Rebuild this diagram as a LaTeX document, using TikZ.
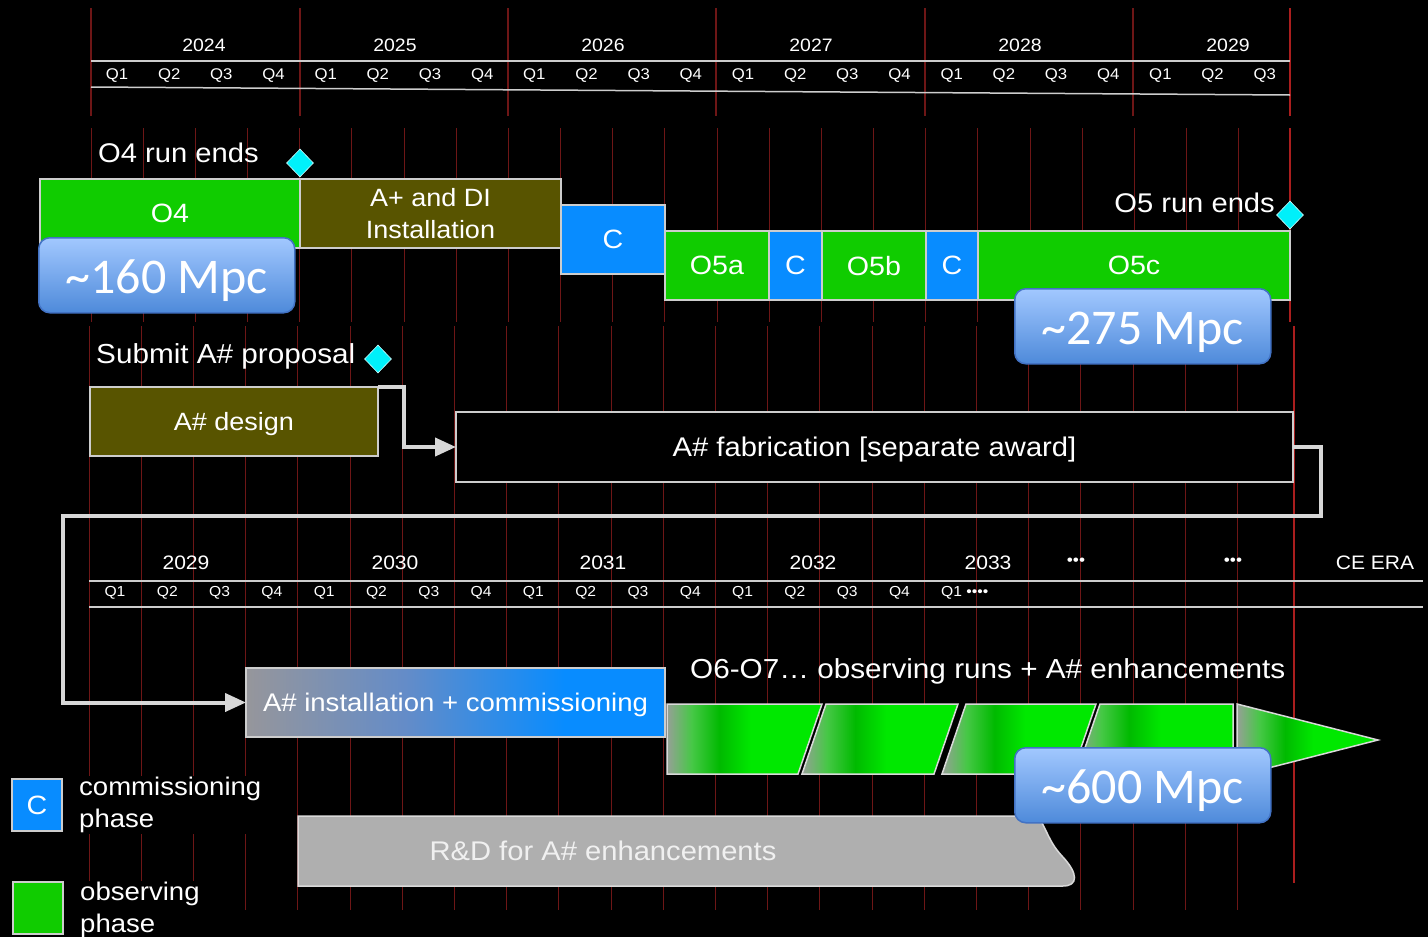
\documentclass[tikz,border=0pt]{standalone}
\usepackage{fontspec}
\setmainfont{Liberation Sans}[FakeStretch=1.08]
\newfontfamily\mpcfont{Carlito}
\usepackage{tikz}
\usetikzlibrary{arrows.meta,shapes.geometric,positioning}

\definecolor{obsgreen}{RGB}{16,204,0}
\definecolor{cblue}{RGB}{8,140,255}
\definecolor{olive}{RGB}{88,84,0}
\definecolor{stonecyan}{RGB}{0,240,250}
\definecolor{gridred}{RGB}{110,22,22}
\definecolor{endred}{RGB}{170,30,30}
\definecolor{boxline}{RGB}{205,205,205}
\definecolor{flowgray}{RGB}{215,215,215}
\definecolor{bubtop}{RGB}{162,200,255}
\definecolor{bubbot}{RGB}{78,138,218}
\definecolor{bubline}{RGB}{66,114,196}
\definecolor{rdgray}{RGB}{175,175,175}
\definecolor{seggray}{RGB}{150,160,150}
\definecolor{segmid}{RGB}{70,200,70}
\definecolor{segdark}{RGB}{0,186,0}
\definecolor{seglight}{RGB}{0,232,0}
\definecolor{instgray}{RGB}{150,150,155}
\definecolor{instmid}{RGB}{100,140,200}

\pgfdeclarehorizontalshading{segshade}{100bp}{color(0bp)=(seggray); color(25bp)=(seggray); color(33bp)=(segmid); color(42bp)=(segdark); color(52bp)=(seglight); color(75bp)=(seglight); color(100bp)=(seglight)}
\pgfdeclarehorizontalshading{instshade}{100bp}{color(0bp)=(instgray); color(25bp)=(instgray); color(44bp)=(instmid); color(63bp)=(cblue); color(75bp)=(cblue); color(100bp)=(cblue)}

\tikzset{
  gridline/.style={draw=gridred, line width=1pt},
  yeartick/.style={draw=gridred, line width=1.2pt},
  endtick/.style={draw=endred, line width=1.6pt},
  axisrule/.style={draw=boxline, line width=1.5pt},
  yearlab/.style={text=white, font=\fontsize{18}{22}\selectfont, inner sep=0pt},
  qlab/.style={text=white, font=\fontsize{15.5}{19}\selectfont, inner sep=0pt},
  lowqlab/.style={text=white, font=\fontsize{14.5}{18}\selectfont, inner sep=0pt},
  lowyearlab/.style={text=white, font=\fontsize{19.5}{23}\selectfont, inner sep=0pt},
  phase/.style={draw=boxline, line width=1.2pt, outer sep=0pt, inner sep=0pt,
    text=white, text depth=0pt, font=\fontsize{26.5}{32}\selectfont, align=center},
  obsbox/.style={phase, fill=obsgreen},
  cbox/.style={phase, fill=cblue},
  instbox/.style={phase, fill=olive, font=\fontsize{25}{32}\selectfont},
  fabbox/.style={phase, fill=black, font=\fontsize{27}{32}\selectfont},
  milestone/.style={diamond, fill=stonecyan, draw=white!80!stonecyan, line width=0.6pt,
    inner sep=0pt, minimum width=27pt, minimum height=28pt},
  runlab/.style={text=white, font=\fontsize{27}{32}\selectfont, inner sep=0pt},
  legtext/.style={text=white, fill=black, font=\fontsize{25.5}{32}\selectfont,
    align=left, inner sep=1pt},
  bubble/.style={draw=bubline, line width=1.5pt, rounded corners=11pt,
    top color=bubtop, bottom color=bubbot, text=white,
    font=\mpcfont\fontsize{50}{56}\selectfont, inner sep=0pt,
    text height=36pt, text depth=0pt,
    minimum width=256pt, minimum height=75pt},
  flow/.style={draw=flowgray, line width=4pt, -{Triangle[length=21pt,width=18pt]}},
  segment/.style={draw=white!85!black, line width=1.5pt, shading=segshade},
}

\begin{document}
\begin{tikzpicture}[x=1pt,y=-1pt]
  % Canvas
  \fill[black] (0,0) rectangle (1428,937);
  \useasboundingbox (0,0) rectangle (1428,937);

  % Top time axis 2024--2029
  \foreach \x in {91,300,508,716,925,1133}
    \draw[yeartick] (\x,8) -- (\x,116);
  \draw[endtick] (1290,8) -- (1290,116);
  \draw[axisrule] (91,61) -- (1290,61);
  \draw[axisrule] (91,87) -- (1290,95);
  \foreach \yr/\x in {2024/204,2025/395,2026/603,2027/811,2028/1020,2029/1228}
    \node[yearlab] (ty\yr) at (\x,45) {\yr};
  \foreach \k in {0,...,22}{
    \pgfmathtruncatemacro{\qn}{mod(\k,4)+1}
    \node[qlab] (tq\k) at ({117+52.17*\k},76) {Q\qn};
  }

  % Quarter grid
  \foreach \k in {0,...,22}
    \draw[gridline] ({91+52.17*\k},128) -- ++(0,194);
  \draw[endtick] (1290,128) -- (1290,322);
  \foreach \k in {0,...,22}
    \draw[gridline] ({89+52.2*\k},326) -- ++(0,584);
  \draw[endtick] (1294,326) -- (1294,883);

  % Lower time axis 2029--CE era
  \draw[axisrule] (89,581) -- (1423,581);
  \draw[axisrule] (89,607) -- (1423,607);
  \foreach \yr/\x in {2029/186,2030/395,2031/603,2032/813,2033/988}
    \node[lowyearlab] (by\yr) at (\x,563) {\yr};
  \node[lowyearlab, font=\fontsize{16}{20}\selectfont] (bdots1) at (1076,562) {•••};
  \node[lowyearlab, font=\fontsize{16}{20}\selectfont] (bdots2) at (1233,562) {•••};
  \node[lowyearlab] (bce) at (1375,563) {CE ERA};
  \foreach \k in {0,...,15}{
    \pgfmathtruncatemacro{\qn}{mod(\k,4)+1}
    \node[lowqlab] (bq\k) at ({115+52.3*\k},593) {Q\qn};
  }
  \node[lowqlab, anchor=west] (bq16) at (941,593) {Q1 ••••};

  % O4 and O5 runs
  \node[obsbox, minimum width=260pt, minimum height=69pt, anchor=north west] (O4) at (40,179) {O4};
  \node[instbox, minimum width=261pt, minimum height=69pt, right=0pt of O4] (Aplus) {A+ and DI\\Installation};
  \node[cbox, minimum width=104pt, minimum height=69pt, anchor=north west] (C1) at (561,205) {C};
  \node[obsbox, minimum width=104pt, minimum height=69pt, anchor=north west] (O5a) at (665,231) {O5a};
  \node[cbox, minimum width=53pt, minimum height=69pt, right=0pt of O5a] (C2) {C};
  \node[obsbox, minimum width=104pt, minimum height=69pt, right=0pt of C2] (O5b) {O5b};
  \node[cbox, minimum width=52pt, minimum height=69pt, right=0pt of O5b] (C3) {C};
  \node[obsbox, minimum width=312pt, minimum height=69pt, right=0pt of C3] (O5c) {O5c};

  \node[runlab, anchor=base west] (O4end) at (98,162) {O4 run ends};
  \node[milestone] (O4stone) at (300,163) {};
  \node[runlab, anchor=base east] (O5end) at (1275,212) {O5 run ends};
  \node[milestone] (O5stone) at (1290,215) {};

  % A# design and fabrication
  \node[runlab, anchor=base west, font=\fontsize{27.5}{32}\selectfont] (submit) at (96,363) {Submit A\# proposal};
  \node[milestone] (subst) at (378,359) {};
  \node[instbox, minimum width=288pt, minimum height=69pt, anchor=north west] (design) at (90,387) {A\# design};
  \node[fabbox, minimum width=837pt, minimum height=70pt, anchor=north west] (fab) at (456,412) {A\# fabrication [separate award]};

  % A# installation and observing runs
  \node[phase, shading=instshade, minimum width=419pt, minimum height=69pt, anchor=north west,
    font=\fontsize{25.5}{32}\selectfont] (inst) at (246,668) {A\# installation + commissioning};
  \node[runlab, anchor=base west, font=\fontsize{27.5}{32}\selectfont] (O6) at (690,678) {O6-O7… observing runs + A\# enhancements};
  \draw[segment] (667,704) -- (822,704) -- (798,774) -- (667,774) -- cycle;
  \draw[segment] (826,704) -- (958,704) -- (934,774) -- (802,774) -- cycle;
  \draw[segment] (966,704) -- (1096,704) -- (1072,774) -- (942,774) -- cycle;
  \draw[segment] (1100,704) -- (1233,704) -- (1233,774) -- (1076,774) -- cycle;
  \draw[segment] (1237,704) -- (1378,740) -- (1237,776) -- cycle;

  % R&D
  \draw[draw=white!85!black, line width=1.5pt, fill=rdgray]
    (298,816) -- (1038,816) .. controls (1047,830) and (1049,842) .. (1062,856)
    .. controls (1079,874) and (1078,886) .. (1063,886) -- (298,886) -- cycle;
  \node[text=white!94!black, font=\fontsize{27}{32}\selectfont, inner sep=0pt] (rd) at (603,851) {R\&D for A\# enhancements};

  % Flow arrows
  \draw[flow] (design.north east) -- ++(26,0) |- (fab.west);
  \coordinate (turn) at (63,516);
  \draw[flow] (fab.east) -- ++(28,0) |- (turn) |- (inst.west);

  % Range bubbles
  \node[bubble, anchor=north west] (r160) at (38,237) {\textasciitilde160 Mpc};
  \node[bubble, anchor=north west] (r275) at (1014,288) {\textasciitilde275 Mpc};
  \node[bubble, anchor=north west] (r600) at (1014,747) {\textasciitilde600 Mpc};

  % Legend
  \node[cbox, minimum width=50pt, minimum height=52pt, anchor=north west] (legC) at (12,779) {C};
  \node[legtext, right=16pt of legC] (legCtxt) {commissioning\\phase};
  \node[obsbox, minimum width=50pt, minimum height=52pt, anchor=north west] (legO) at (13,882) {};
  \node[legtext, right=16pt of legO, yshift=-2pt] (legOtxt) {observing\\phase};
\end{tikzpicture}
\end{document}
